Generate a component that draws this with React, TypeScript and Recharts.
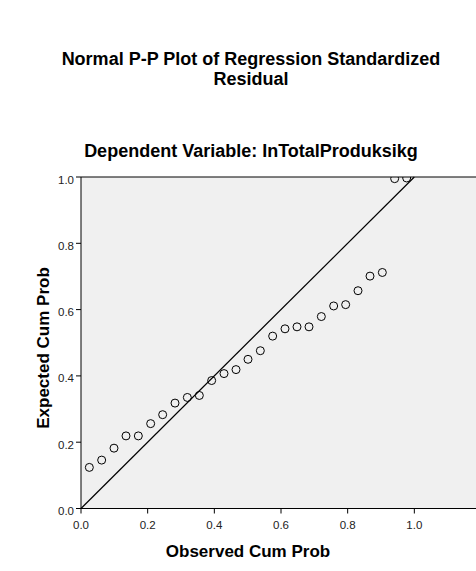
import React from "react";
import { ScatterChart, Scatter, XAxis, YAxis, CartesianGrid, ReferenceLine } from "recharts";

const observedCumProb = [0.025, 0.062, 0.099, 0.135, 0.172, 0.209, 0.245, 0.282, 0.319, 0.355, 0.392, 0.429, 0.465, 0.501, 0.538, 0.575, 0.612, 0.648, 0.684, 0.721, 0.758, 0.794, 0.831, 0.867, 0.904, 0.941, 0.977];
const expectedCumProb = [0.124, 0.146, 0.182, 0.219, 0.219, 0.256, 0.283, 0.318, 0.335, 0.341, 0.386, 0.407, 0.419, 0.45, 0.476, 0.52, 0.542, 0.548, 0.548, 0.579, 0.611, 0.615, 0.657, 0.701, 0.712, 0.995, 0.997];
const xTicks = [0, 0.2, 0.4, 0.6, 0.8, 1.0];
const yTicks = [0, 0.2, 0.4, 0.6, 0.8, 1.0];
const diagonal = [{ x: 0, y: 0 }, { x: 1, y: 1 }];
const titleLines = ["Normal P-P Plot of Regression Standardized", "Residual"];
const subtitle = "Dependent Variable: InTotalProduksikg";
const xLabel = "Observed Cum Prob";
const yLabel = "Expected Cum Prob";

const points = observedCumProb.map((x, i) => ({ x, y: expectedCumProb[i] }));

const FONT = "'Liberation Sans', Arial, Helvetica, sans-serif";

const Circle = (props: any) => (
  <circle cx={props.cx} cy={props.cy} r={4} fill="none" stroke="#000" strokeWidth={1} />
);

const XTick = (props: any) => {
  const { x, y, payload } = props;
  return (
    <text x={x} y={y + 13.5} textAnchor="middle" fontFamily={FONT} fontSize={11.5} fill="#222">
      {payload.value.toFixed(1)}
    </text>
  );
};

const YTick = (props: any) => {
  const { x, y, payload } = props;
  return (
    <text x={x} y={y + 6.5} textAnchor="end" fontFamily={FONT} fontSize={11.5} fill="#222">
      {payload.value.toFixed(1)}
    </text>
  );
};

export default function App() {
  return (
    <div style={{ position: "fixed", left: 0, top: 0, width: 476, height: 571, overflow: "hidden", background: "#fff" }}>
      <ScatterChart
        width={491}
        height={571}
        margin={{ top: 177, right: 10, bottom: 32.5, left: 0 }}
      >
        <CartesianGrid fill="#f0f0f0" horizontal={false} vertical={false} />
        <XAxis
          type="number"
          dataKey="x"
          domain={[0, 1.2]}
          ticks={xTicks}
          height={30}
          stroke="#000"
          tickSize={5}
          tick={<XTick />}
          allowDataOverflow
        />
        <YAxis
          type="number"
          dataKey="y"
          domain={[0, 1]}
          ticks={yTicks}
          width={81}
          stroke="#000"
          tickSize={5}
          tick={<YTick />}
          allowDataOverflow
        />
        <ReferenceLine y={1} stroke="#000" strokeWidth={1} ifOverflow="visible" />
        <ReferenceLine segment={diagonal} stroke="#000" strokeWidth={1.2} ifOverflow="visible" />
        <Scatter data={points} shape={<Circle />} isAnimationActive={false} />
      </ScatterChart>
      <svg width={476} height={571} style={{ position: "absolute", left: 0, top: 0, pointerEvents: "none" }}>
        <g fontFamily={FONT} fontWeight="bold" fill="#000" textAnchor="middle">
          <text x={251} y={64.5} fontSize={18}>{titleLines[0]}</text>
          <text x={251} y={84.5} fontSize={18}>{titleLines[1]}</text>
          <text x={251} y={156.7} fontSize={18}>{subtitle}</text>
          <text x={248} y={557.3} fontSize={17}>{xLabel}</text>
          <text x={49.3} y={348} fontSize={17} transform="rotate(-90 49.3 348)">{yLabel}</text>
        </g>
      </svg>
    </div>
  );
}
